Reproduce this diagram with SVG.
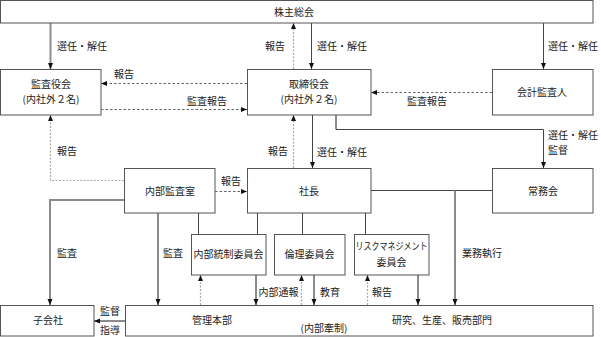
<svg xmlns="http://www.w3.org/2000/svg" width="601" height="337" viewBox="0 0 601 337">
<style>
.box{fill:#fff;stroke:#555;stroke-width:1}
text{font-family:"Noto Sans CJK JP","Noto Sans CJK SC",sans-serif;font-size:10px;fill:#222}
.c{text-anchor:middle}
.r{text-anchor:end}
.thin{fill:none;stroke:#444;stroke-width:1}
.thick{fill:none;stroke:#8c8c8c;stroke-width:2}
.dash{fill:none;stroke:#666;stroke-width:1;stroke-dasharray:2.5,2}
.dashl{fill:none;stroke:#aaa;stroke-width:1.2;stroke-dasharray:2,1.5}
</style>
<defs>
<marker id="a" markerUnits="userSpaceOnUse" markerWidth="6" markerHeight="6" refX="6" refY="3" orient="auto">
<path d="M0,0.5 L6,3 L0,5.5 Z" fill="#111"/>
</marker>
</defs>
<rect width="601" height="337" fill="#fff"/>
<g id="connectors">
<path class="thick" d="M50.5,23 V69" marker-end="url(#a)"/>
<text x="57" y="50">選任・解任</text>
<path class="dashl" d="M293.5,69 V23" marker-end="url(#a)"/>
<text class="r" x="285" y="50">報告</text>
<path class="thin" d="M311.5,23 V69" marker-end="url(#a)"/>
<text x="317" y="50">選任・解任</text>
<path class="thin" d="M543.5,23 V69" marker-end="url(#a)"/>
<text x="548" y="50">選任・解任</text>
<path class="dash" d="M247,83.5 H101" marker-end="url(#a)"/>
<text x="114" y="78">報告</text>
<path class="dash" d="M101,109.5 H247" marker-end="url(#a)"/>
<text x="187" y="105">監査報告</text>
<path class="dash" d="M492,92.5 H371" marker-end="url(#a)"/>
<text x="407" y="105">監査報告</text>
<path class="dashl" d="M124,180.5 H50.5 V115" marker-end="url(#a)"/>
<text x="57" y="155">報告</text>
<path class="dashl" d="M293.5,168 V115" marker-end="url(#a)"/>
<text class="r" x="288" y="155">報告</text>
<path class="thin" d="M312.5,115 V168" marker-end="url(#a)"/>
<text x="317" y="156">選任・解任</text>
<path class="thick" d="M336,115 V129.5"/>
<path class="thin" d="M336,129.5 H543.5 V168" marker-end="url(#a)"/>
<text x="548" y="139">選任・解任</text>
<text x="548" y="153.5">監督</text>
<path class="dash" d="M215,191.5 H247" marker-end="url(#a)"/>
<text x="221" y="185">報告</text>
<path class="thick" d="M124,200 H50 V305" marker-end="url(#a)"/>
<text x="57" y="257">監査</text>
<path class="thick" d="M158,213 V305" marker-end="url(#a)"/>
<text x="163" y="257">監査</text>
<path class="thin" d="M198.5,213 V234"/>
<path class="thin" d="M257.5,213 V234"/>
<path class="thin" d="M302.5,213 V234"/>
<path class="thin" d="M365.5,213 V234"/>
<path class="thin" d="M371,190.5 H492"/>
<path class="thick" d="M455,190.5 V305" marker-end="url(#a)"/>
<text x="462" y="257">業務執行</text>
<path class="dashl" d="M200.5,305 V275" marker-end="url(#a)"/>
<path class="thick" d="M256,275 V305" marker-end="url(#a)"/>
<text x="258.5" y="296">内部通報</text>
<path class="dashl" d="M301.5,305 V275" marker-end="url(#a)"/>
<path class="thick" d="M314,275 V305" marker-end="url(#a)"/>
<text x="320" y="296">教育</text>
<path class="dashl" d="M367.5,305 V275" marker-end="url(#a)"/>
<text x="372" y="296">報告</text>
<path class="thick" d="M418,275 V305" marker-end="url(#a)"/>
<path class="thick" d="M125,321 H94" marker-end="url(#a)"/>
<text x="100" y="315">監督</text>
<text x="100" y="334">指導</text>
</g>
<g id="n-kabunushi"><rect class="box" x="0.5" y="0.5" width="592.5" height="22.5"/><text class="c" x="294" y="15.5">株主総会</text></g>
<g id="n-kansayakukai"><rect class="box" x="0.5" y="69.5" width="100.5" height="45.5"/><text class="c" x="51" y="88">監査役会</text><text class="c" x="51" y="103">(内社外２名)</text></g>
<g id="n-torishimariyakukai"><rect class="box" x="247.5" y="69.5" width="123.5" height="45.5"/><text class="c" x="309" y="88">取締役会</text><text class="c" x="309" y="103">(内社外２名)</text></g>
<g id="n-kaikeikansanin"><rect class="box" x="492.5" y="69.5" width="100.5" height="45.5"/><text class="c" x="542" y="96">会計監査人</text></g>
<g id="n-naibukansashitsu"><rect class="box" x="124.5" y="168.5" width="90.5" height="44.5"/><text class="c" x="170" y="195">内部監査室</text></g>
<g id="n-shacho"><rect class="box" x="247.5" y="168.5" width="123.5" height="44.5"/><text class="c" x="309" y="195">社長</text></g>
<g id="n-jomukai"><rect class="box" x="492.5" y="168.5" width="100.5" height="44.5"/><text class="c" x="543" y="195">常務会</text></g>
<g id="n-naibutosei"><rect class="box" x="191.5" y="234.5" width="74.5" height="40.5"/><text class="c" x="228.5" y="258">内部統制委員会</text></g>
<g id="n-rinri"><rect class="box" x="274.5" y="234.5" width="70.5" height="40.5"/><text class="c" x="309.5" y="258">倫理委員会</text></g>
<g id="n-risk"><rect class="box" x="354.5" y="234.5" width="74.5" height="40.5"/><text class="c" x="391.5" y="250" textLength="72" lengthAdjust="spacingAndGlyphs">リスクマネジメント</text><text class="c" x="391.5" y="266">委員会</text></g>
<g id="n-kogaisha"><rect class="box" x="0.5" y="305.5" width="93.5" height="30.5"/><text class="c" x="48" y="324">子会社</text></g>
<g id="n-honbu"><rect class="box" x="125.5" y="305.5" width="467.5" height="30.5"/><text class="c" x="212" y="324">管理本部</text><text class="c" x="324" y="332">(内部牽制)</text><text class="c" x="442" y="324">研究、生産、販売部門</text></g>
</svg>
